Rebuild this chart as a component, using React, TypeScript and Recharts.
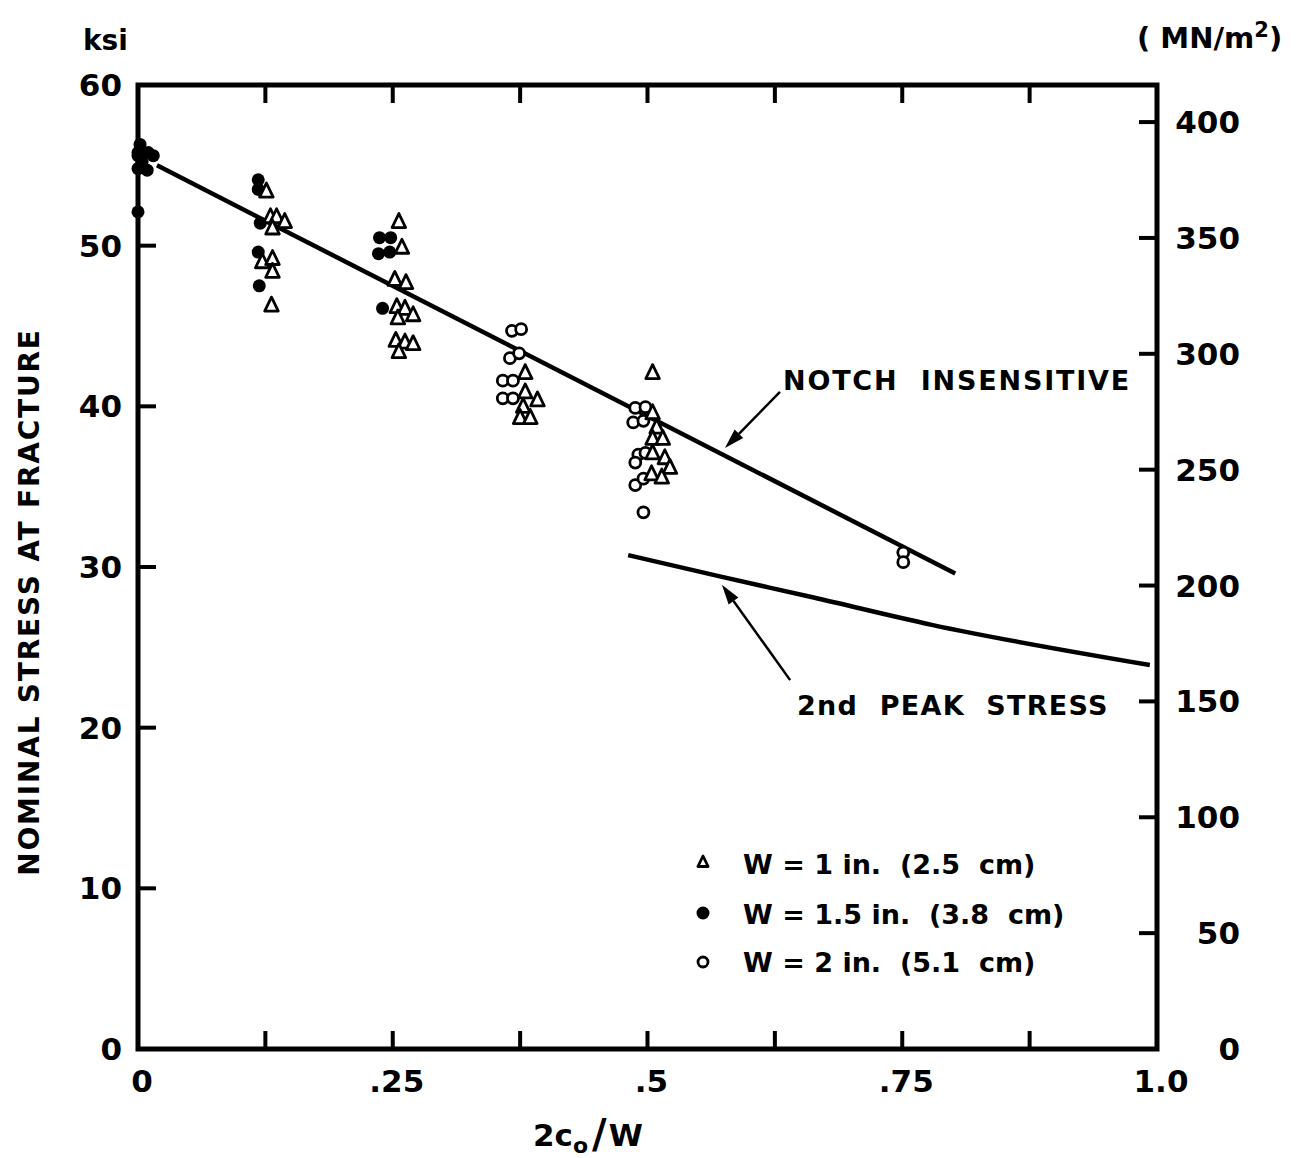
import React from 'react';
import {
  ComposedChart,
  XAxis,
  YAxis,
  Scatter,
  Line,
  ReferenceArea,
  ReferenceLine,
} from 'recharts';

// W = 1 in. (2.5 cm) specimens, open triangles
const width1in = [
  { x: 0.126, y: 53.4 }, { x: 0.13, y: 51.8 }, { x: 0.136, y: 51.8 }, { x: 0.144, y: 51.5 },
  { x: 0.132, y: 51.1 }, { x: 0.122, y: 49.0 }, { x: 0.132, y: 49.2 }, { x: 0.132, y: 48.4 },
  { x: 0.131, y: 46.3 },
  { x: 0.256, y: 51.5 }, { x: 0.259, y: 49.9 }, { x: 0.252, y: 47.9 }, { x: 0.263, y: 47.7 },
  { x: 0.254, y: 46.2 }, { x: 0.262, y: 46.1 }, { x: 0.27, y: 45.7 }, { x: 0.255, y: 45.5 },
  { x: 0.253, y: 44.1 }, { x: 0.262, y: 44.0 }, { x: 0.27, y: 43.9 }, { x: 0.256, y: 43.4 },
  { x: 0.38, y: 42.1 }, { x: 0.38, y: 40.9 }, { x: 0.392, y: 40.4 }, { x: 0.378, y: 40.0 },
  { x: 0.375, y: 39.3 }, { x: 0.385, y: 39.3 },
  { x: 0.505, y: 42.1 }, { x: 0.505, y: 39.6 }, { x: 0.509, y: 38.7 }, { x: 0.505, y: 38.0 },
  { x: 0.515, y: 38.0 }, { x: 0.505, y: 37.1 }, { x: 0.517, y: 36.8 }, { x: 0.522, y: 36.2 },
  { x: 0.504, y: 35.8 }, { x: 0.514, y: 35.6 },
];

// W = 1.5 in. (3.8 cm), filled circles
const width15in = [
  { x: 0, y: 55.6 }, { x: 0.002, y: 56.3 }, { x: 0, y: 55.8 }, { x: 0.01, y: 55.8 },
  { x: 0.015, y: 55.6 }, { x: 0, y: 54.8 }, { x: 0.009, y: 54.7 }, { x: 0.004, y: 55.2 },
  { x: 0, y: 52.1 },
  { x: 0.118, y: 54.1 }, { x: 0.118, y: 53.5 }, { x: 0.12, y: 51.4 }, { x: 0.118, y: 49.6 },
  { x: 0.119, y: 47.5 },
  { x: 0.237, y: 50.5 }, { x: 0.248, y: 50.5 }, { x: 0.236, y: 49.5 }, { x: 0.247, y: 49.6 },
  { x: 0.24, y: 46.1 },
];

// W = 2 in. (5.1 cm), open circles
const width2in = [
  { x: 0.367, y: 44.7 }, { x: 0.376, y: 44.8 }, { x: 0.365, y: 43.0 }, { x: 0.374, y: 43.3 },
  { x: 0.358, y: 41.6 }, { x: 0.368, y: 41.6 }, { x: 0.358, y: 40.5 }, { x: 0.368, y: 40.5 },
  { x: 0.488, y: 39.9 }, { x: 0.498, y: 39.95 }, { x: 0.486, y: 39.0 }, { x: 0.496, y: 39.1 },
  { x: 0.491, y: 37.0 }, { x: 0.498, y: 37.1 }, { x: 0.488, y: 36.5 }, { x: 0.488, y: 35.1 },
  { x: 0.496, y: 35.5 }, { x: 0.496, y: 33.4 },
  { x: 0.751, y: 30.9 }, { x: 0.751, y: 30.3 },
];

const notchInsensitive = [
  { x: 0.0186, y: 55.0 },
  { x: 0.802, y: 29.6 },
];

const secondPeak = [
  { x: 0.481, y: 30.74 },
  { x: 0.572, y: 29.4 },
  { x: 0.663, y: 28.1 },
  { x: 0.779, y: 26.4 },
  { x: 0.993, y: 23.9 },
];

const notchArrow = [{ x: 0.63, y: 40.9 }, { x: 0.576, y: 37.4 }];
const peakArrow = [{ x: 0.64, y: 22.96 }, { x: 0.573, y: 28.9 }];

const xTicks = [0, 0.125, 0.25, 0.375, 0.5, 0.625, 0.75, 0.875, 1];
const xLabels: Record<string, string> = { '0': '0', '0.25': '.25', '0.5': '.5', '0.75': '.75', '1': '1.0' };
const ksiTicks = [0, 10, 20, 30, 40, 50, 60];
const mpaTicks = [0, 50, 100, 150, 200, 250, 300, 350, 400];

const FONT = '"DejaVu Sans", sans-serif';
const TICK_LEN = 18;

const Triangle = ({ cx, cy, s = 8 }: any) => (
  <polygon
    points={`${cx},${cy - s} ${cx - s * 0.85},${cy + s * 0.75} ${cx + s * 0.85},${cy + s * 0.75}`}
    fill="#fff"
    stroke="#000"
    strokeWidth={2.8}
    strokeLinejoin="round"
  />
);
const Dot = ({ cx, cy, r = 6.5 }: any) => <circle cx={cx} cy={cy} r={r} fill="#000" />;
const Ring = ({ cx, cy, r = 5.5 }: any) => (
  <circle cx={cx} cy={cy} r={r} fill="#fff" stroke="#000" strokeWidth={2.8} />
);

const Arrow = ({ x1, y1, x2, y2 }: any) => {
  const dx = x2 - x1;
  const dy = y2 - y1;
  const len = Math.sqrt(dx * dx + dy * dy) || 1;
  const ux = dx / len;
  const uy = dy / len;
  const hl = 20;
  const hw = 6;
  const bx = x2 - ux * hl;
  const by = y2 - uy * hl;
  return (
    <g>
      <line x1={x1} y1={y1} x2={bx} y2={by} stroke="#000" strokeWidth={2.5} />
      <polygon
        points={`${x2},${y2} ${bx - uy * hw},${by + ux * hw} ${bx + uy * hw},${by - ux * hw}`}
        fill="#000"
      />
    </g>
  );
};

const labelProps = { fontFamily: FONT, fontWeight: 'bold', fontSize: 31, fill: '#000' };

// inward tick marks with outside labels
const LeftTick = ({ x, y, payload }: any) => (
  <g>
    <path d={`M${x},${y}h${TICK_LEN}`} stroke="#000" strokeWidth={4} fill="none" />
    <text x={x - 16} y={y} textAnchor="end" dominantBaseline="central" {...labelProps}>
      {payload.value}
    </text>
  </g>
);

const RightTick = ({ x, y, payload }: any) => (
  <g>
    <path d={`M${x},${y}h${-TICK_LEN}`} stroke="#000" strokeWidth={4} fill="none" />
    <text x={x + 83} y={y} textAnchor="end" dominantBaseline="central" {...labelProps}>
      {payload.value}
    </text>
  </g>
);

const BottomTick = ({ x, y, payload }: any) => (
  <g>
    <path d={`M${x},${y}v${-TICK_LEN}`} stroke="#000" strokeWidth={4} fill="none" />
    <text x={x + 4} y={y + 43} textAnchor="middle" {...labelProps}>
      {xLabels[String(payload.value)] ?? ''}
    </text>
  </g>
);

const TopTick = ({ x, y }: any) => (
  <path d={`M${x},${y}v${TICK_LEN}`} stroke="#000" strokeWidth={4} fill="none" />
);

const textStyle: React.CSSProperties = { fontFamily: FONT, fontWeight: 'bold', whiteSpace: 'pre' };

export default function App() {
  return (
    <div style={{ position: 'relative', width: 1281, height: 1150, background: '#fff' }}>
      <ComposedChart
        width={1281}
        height={1142}
        margin={{ top: 47, right: 0, bottom: 0, left: 0 }}
      >
        <XAxis
          dataKey="x"
          type="number"
          domain={[0, 1]}
          ticks={xTicks}
          height={101}
          axisLine={false}
          tickLine={false}
          tickSize={0}
          tickMargin={0}
          tick={(p: any) => <BottomTick {...p} />}
          interval={0}
        />
        <XAxis
          xAxisId="top"
          dataKey="x"
          orientation="top"
          type="number"
          domain={[0, 1]}
          allowDataOverflow
          ticks={xTicks}
          height={30}
          axisLine={false}
          tickLine={false}
          tickSize={0}
          tickMargin={0}
          tick={(p: any) => <TopTick {...p} />}
          interval={0}
        />
        <YAxis
          dataKey="y"
          type="number"
          domain={[0, 60]}
          ticks={ksiTicks}
          width={130}
          axisLine={false}
          tickLine={false}
          tickSize={0}
          tickMargin={0}
          tick={(p: any) => <LeftTick {...p} />}
          interval={0}
        />
        <YAxis
          yAxisId="right"
          orientation="right"
          type="number"
          domain={[0, 416]}
          allowDataOverflow
          ticks={mpaTicks}
          width={132}
          axisLine={false}
          tickLine={false}
          tickSize={0}
          tickMargin={0}
          tick={(p: any) => <RightTick {...p} />}
          interval={0}
        />
        <ReferenceArea
          x1={0}
          x2={1}
          y1={0}
          y2={60}
          fill="none"
          stroke="#000"
          strokeWidth={5}
          ifOverflow="visible"
        />
        <Line
          xAxisId="top"
          data={notchInsensitive}
          dataKey="y"
          type="linear"
          stroke="#000"
          strokeWidth={4.5}
          dot={false}
          isAnimationActive={false}
        />
        <Line
          data={secondPeak}
          dataKey="y"
          type="monotone"
          stroke="#000"
          strokeWidth={4.5}
          dot={false}
          isAnimationActive={false}
        />
        <Scatter
          data={width15in}
          dataKey="y"
          shape={(p: any) => <Dot cx={p.cx} cy={p.cy} />}
          isAnimationActive={false}
        />
        <Scatter
          data={width2in}
          dataKey="y"
          shape={(p: any) => <Ring cx={p.cx} cy={p.cy} />}
          isAnimationActive={false}
        />
        <Scatter
          data={width1in}
          dataKey="y"
          shape={(p: any) => <Triangle cx={p.cx} cy={p.cy} />}
          isAnimationActive={false}
        />
        <ReferenceLine segment={notchArrow} shape={(p: any) => <Arrow {...p} />} />
        <ReferenceLine segment={peakArrow} shape={(p: any) => <Arrow {...p} />} />
      </ComposedChart>

      <svg
        width={1281}
        height={1150}
        style={{ position: 'absolute', left: 0, top: 0, pointerEvents: 'none', overflow: 'visible' }}
      >
        <text x={75} y={42} fontSize={28} style={textStyle}>ksi</text>
        <text x={1129} y={40} fontSize={29} style={textStyle}>
          ( MN/m<tspan dy={-11} fontSize={21}>2</tspan>
          <tspan dy={11}>)</tspan>
        </text>
        <text
          transform="translate(31, 594) rotate(-90)"
          textAnchor="middle"
          fontSize={28}
          letterSpacing={1.8}
          style={textStyle}
        >
          NOMINAL STRESS AT FRACTURE
        </text>
        <text x={525} y={1138} fontSize={31} style={textStyle}>
          2c<tspan dy={7} fontSize={22}>o</tspan>
          <tspan dy={-5} dx={4} fontSize={40}>/</tspan>
          <tspan dy={-2} dx={2}>W</tspan>
        </text>
        <text x={775} y={382} fontSize={27} letterSpacing={1.8} style={textStyle}>NOTCH  INSENSITIVE</text>
        <text x={789} y={707} fontSize={27} letterSpacing={1.3} style={textStyle}>2nd  PEAK  STRESS</text>

        <Triangle cx={695} cy={854} s={6} />
        <text x={735} y={866} fontSize={27} style={textStyle}>W = 1 in.  (2.5  cm)</text>
        <Dot cx={695} cy={905} r={6.5} />
        <text x={735} y={916} fontSize={27} style={textStyle}>W = 1.5 in.  (3.8  cm)</text>
        <Ring cx={695} cy={954} r={5} />
        <text x={735} y={964} fontSize={27} style={textStyle}>W = 2 in.  (5.1  cm)</text>
      </svg>
    </div>
  );
}
